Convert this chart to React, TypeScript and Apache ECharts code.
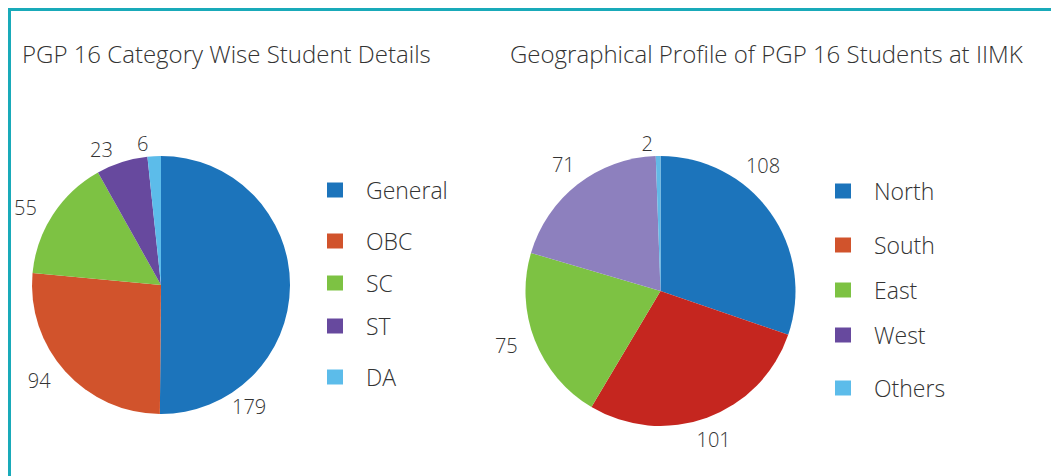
import React, { useEffect, useRef } from "react";
import * as echarts from "echarts";

const titles = ["PGP 16 Category Wise Student Details", "Geographical Profile of PGP 16 Students at IIMK"];

const catNames = ["General", "OBC", "SC", "ST", "DA"];
const catValues = [179, 94, 55, 23, 6];
const catColors = ["#1C74BB", "#D1532C", "#7DC243", "#67499E", "#5CBCEA"];
const catLegendColors = ["#1C74BB", "#D1532C", "#7DC243", "#67499E", "#5CBCEA"];

const geoNames = ["North", "South", "East", "West", "Others"];
const geoValues = [108, 101, 75, 71, 2];
const geoColors = ["#1C74BB", "#C5261F", "#7DC243", "#8D80BE", "#62B9E6"];
const geoLegendColors = ["#1C74BB", "#D1532C", "#7DC243", "#67499E", "#5CBCEA"];

const FONT = "Open Sans";
const TEXT = "#333333";
const TEAL = "#19AAB9";

// label nudges (dx, dy) reproducing the manual placement of some labels
const catNudges: Record<string, [number, number]> = { General: [-76, 121] };
const geoNudges: Record<string, [number, number]> = { North: [-40, -39], South: [-20, 10], West: [10, -10] };

// legend row centres
const catLegendY = [190, 241, 283, 326, 377];
const geoLegendY = [191, 245, 290, 335, 388];

export default function App() {
  const ref = useRef<HTMLDivElement>(null);
  useEffect(() => {
    if (!ref.current) return;
    const chart = echarts.init(ref.current, undefined, { renderer: "svg" });

    const legendText = {
      fontSize: 23,
      fontFamily: FONT,
      fontWeight: 300,
      color: TEXT,
      padding: [0, 0, 0, 18],
      lineHeight: 24,
    };
    const legends: any[] = [];
    catNames.forEach((n, i) => {
      legends.push({
        data: [{ name: n, itemStyle: { color: catLegendColors[i] } }],
        left: 327,
        top: catLegendY[i] - 12,
        padding: 0,
        icon: "rect",
        itemWidth: 16,
        itemHeight: 15,
        selectedMode: false,
        textStyle: legendText,
      });
    });
    geoNames.forEach((n, i) => {
      legends.push({
        data: [{ name: n, itemStyle: { color: geoLegendColors[i] } }],
        left: 835,
        top: geoLegendY[i] - 12,
        padding: 0,
        icon: "rect",
        itemWidth: 16,
        itemHeight: 15,
        selectedMode: false,
        textStyle: legendText,
      });
    });

    const labelStyle = {
      show: true,
      position: "outside",
      formatter: "{c}",
      fontSize: 20,
      fontFamily: FONT,
      fontWeight: 300,
      color: TEXT,
      distanceToLabelLine: 5,
    };

    const titleText = { fontSize: 24, fontFamily: FONT, fontWeight: 300, color: TEXT };

    const option: any = {
      animation: false,
      backgroundColor: "#ffffff",
      title: [
        { text: titles[0], left: 22, top: 41, padding: 0, textStyle: titleText },
        { text: titles[1], left: 510, top: 41, padding: 0, textStyle: titleText },
      ],
      legend: legends,
      graphic: [
        { type: "rect", shape: { x: 8, y: 8, width: 1043, height: 3 }, style: { fill: TEAL } },
        { type: "rect", shape: { x: 8, y: 8, width: 3, height: 468 }, style: { fill: TEAL } },
      ],
      series: [
        {
          type: "pie",
          center: [161, 285],
          radius: 129,
          startAngle: 90,
          clockwise: true,
          avoidLabelOverlap: false,
          label: labelStyle,
          labelLine: { show: false, length: 13, length2: 0 },
          emphasis: { disabled: true },
          itemStyle: { borderWidth: 0 },
          labelLayout: (p: any) => {
            const nd = catNudges[catNames[p.dataIndex]];
            return nd ? { dx: nd[0], dy: nd[1] } : {};
          },
          data: catNames.map((n, i) => ({ name: n, value: catValues[i], itemStyle: { color: catColors[i] } })),
        },
        {
          type: "pie",
          center: [660.5, 291],
          radius: 135,
          startAngle: 90,
          clockwise: true,
          avoidLabelOverlap: false,
          label: labelStyle,
          labelLine: { show: false, length: 13, length2: 0 },
          emphasis: { disabled: true },
          itemStyle: { borderWidth: 0 },
          labelLayout: (p: any) => {
            const nd = geoNudges[geoNames[p.dataIndex]];
            return nd ? { dx: nd[0], dy: nd[1] } : {};
          },
          data: geoNames.map((n, i) => ({ name: n, value: geoValues[i], itemStyle: { color: geoColors[i] } })),
        },
      ],
    };
    chart.setOption(option);
    return () => chart.dispose();
  }, []);
  return (
    <div
      ref={ref}
      style={{ position: "absolute", left: 0, top: 0, width: 1051, height: 476 }}
    />
  );
}
